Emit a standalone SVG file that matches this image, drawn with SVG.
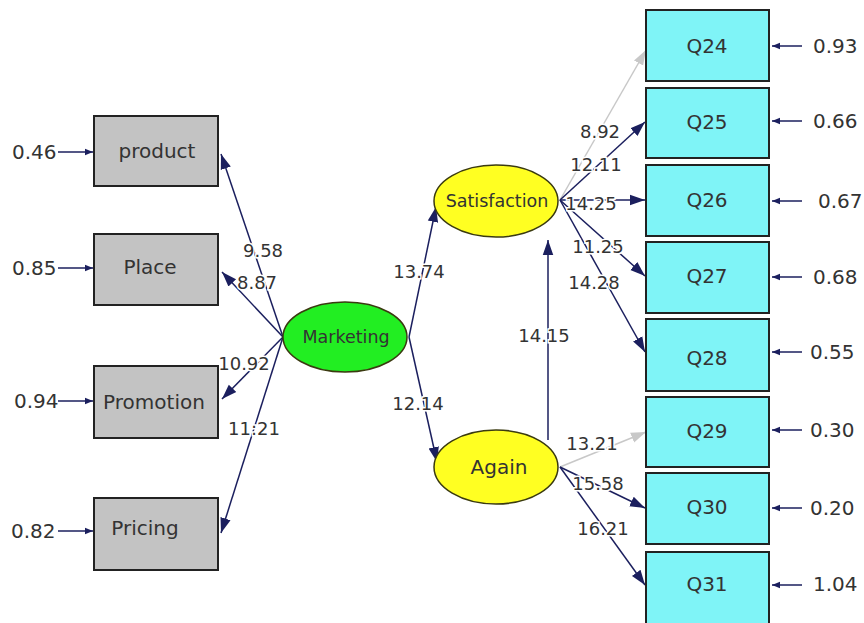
<svg xmlns="http://www.w3.org/2000/svg" width="864" height="623" viewBox="0 0 864 623">
<defs>
<marker id="ah" viewBox="0 0 10 10" refX="10" refY="5" markerWidth="8" markerHeight="8" markerUnits="userSpaceOnUse" orient="auto"><path d="M0,1 L10,5 L0,9 z" fill="#1b1f5e"/></marker>
<marker id="ahb" viewBox="0 0 10 10" refX="10" refY="5" markerWidth="15" markerHeight="15" markerUnits="userSpaceOnUse" orient="auto"><path d="M0,1.5 L10,5 L0,8.5 z" fill="#1b1f5e"/></marker>
<marker id="ahg" viewBox="0 0 10 10" refX="10" refY="5" markerWidth="15" markerHeight="15" markerUnits="userSpaceOnUse" orient="auto"><path d="M0,1.5 L10,5 L0,8.5 z" fill="#c8c8c8"/></marker>
</defs>
<style>
text{font-family:"DejaVu Sans","Open Sans",sans-serif;font-size:20px;fill:#333}
.lbl{font-size:18px;fill:#333;text-anchor:middle;stroke:#fff;stroke-width:3px;paint-order:stroke}
.n{font-size:20px}
.el{font-size:17.5px}
.gb{fill:#c3c3c3;stroke:#222;stroke-width:2}
.cb{fill:#7ff4f7;stroke:#222;stroke-width:2}
.c{stroke:#1b1f5e;stroke-width:1.5;fill:none;marker-end:url(#ahb)}
.g{stroke:#c8c8c8;stroke-width:1.5;fill:none;marker-end:url(#ahg)}
.r{stroke:#1b1f5e;stroke-width:1.5;fill:none;marker-end:url(#ah)}
.e{stroke:#3a3a10;stroke-width:1.5}
</style>
<rect width="864" height="623" fill="#fff"/>
<g id="connectors">
<line class="r" x1="58" y1="152" x2="93" y2="152"/>
<line class="r" x1="58" y1="268" x2="93" y2="268"/>
<line class="r" x1="58" y1="401" x2="93" y2="401"/>
<line class="r" x1="58" y1="531" x2="93" y2="531"/>
<line class="c" x1="283" y1="337" x2="221" y2="154"/>
<line class="c" x1="283" y1="337" x2="222" y2="272"/>
<line class="c" x1="283" y1="337" x2="222" y2="399"/>
<line class="c" x1="283" y1="337" x2="221" y2="533"/>
<line class="c" x1="409" y1="337" x2="436" y2="207"/>
<line class="c" x1="409" y1="337" x2="437" y2="462"/>
<line class="c" x1="548" y1="440" x2="548" y2="240"/>
<line class="g" x1="560" y1="200" x2="646" y2="50"/>
<line class="c" x1="560" y1="200" x2="645" y2="122"/>
<line class="c" x1="560" y1="200" x2="645" y2="200"/>
<line class="c" x1="560" y1="200" x2="645" y2="276"/>
<line class="c" x1="560" y1="200" x2="645" y2="352"/>
<line class="g" x1="560" y1="467" x2="646" y2="432"/>
<line class="c" x1="560" y1="467" x2="645" y2="508"/>
<line class="c" x1="560" y1="467" x2="645" y2="585"/>
<line class="r" x1="802" y1="46" x2="772" y2="46"/>
<line class="r" x1="802" y1="121" x2="772" y2="121"/>
<line class="r" x1="802" y1="201" x2="772" y2="201"/>
<line class="r" x1="802" y1="277" x2="772" y2="277"/>
<line class="r" x1="802" y1="352" x2="772" y2="352"/>
<line class="r" x1="802" y1="430" x2="772" y2="430"/>
<line class="r" x1="802" y1="508" x2="772" y2="508"/>
<line class="r" x1="802" y1="585" x2="772" y2="585"/>
</g>
<g id="labels">
<text class="lbl" x="263" y="257">9.58</text>
<text class="lbl" x="257" y="289">8.87</text>
<text class="lbl" x="244" y="370">10.92</text>
<text class="lbl" x="254" y="435">11:21</text>
<text class="lbl" x="419" y="278">13.74</text>
<text class="lbl" x="418" y="410">12.14</text>
<text class="lbl" x="544" y="342">14.15</text>
<text class="lbl" x="600" y="138">8.92</text>
<text class="lbl" x="596" y="171">12.11</text>
<text class="lbl" x="591" y="210">14.25</text>
<text class="lbl" x="598" y="253">11.25</text>
<text class="lbl" x="594" y="289">14.28</text>
<text class="lbl" x="592" y="450">13.21</text>
<text class="lbl" x="598" y="490">15.58</text>
<text class="lbl" x="603" y="535">16.21</text>
</g>
<g id="res-left">
<text class="n" x="12" y="159">0.46</text>
<text class="n" x="12" y="275">0.85</text>
<text class="n" x="14" y="408">0.94</text>
<text class="n" x="11" y="538">0.82</text>
</g>
<g id="res-right">
<text class="n" x="813" y="53">0.93</text>
<text class="n" x="813" y="128">0.66</text>
<text class="n" x="818" y="208">0.67</text>
<text class="n" x="813" y="284">0.68</text>
<text class="n" x="810" y="359">0.55</text>
<text class="n" x="810" y="437">0.30</text>
<text class="n" x="810" y="515">0.20</text>
<text class="n" x="813" y="591">1.04</text>
</g>
<g id="product"><rect class="gb" x="94" y="116" width="124" height="70"/><text x="157" y="158" text-anchor="middle">product</text></g>
<g id="place"><rect class="gb" x="94" y="234" width="124" height="71"/><text x="150" y="274" text-anchor="middle">Place</text></g>
<g id="promotion"><rect class="gb" x="94" y="366" width="124" height="72"/><text x="154" y="409" text-anchor="middle">Promotion</text></g>
<g id="pricing"><rect class="gb" x="94" y="498" width="124" height="72"/><text x="145" y="535" text-anchor="middle">Pricing</text></g>
<g id="marketing"><ellipse class="e" cx="345" cy="337" rx="62" ry="35" fill="#22ee22"/><text class="el" x="346" y="343" text-anchor="middle">Marketing</text></g>
<g id="satisfaction"><ellipse class="e" cx="496" cy="201" rx="62" ry="36" fill="#ffff22"/><text class="el" x="497" y="207" text-anchor="middle">Satisfaction</text></g>
<g id="again"><ellipse class="e" cx="496" cy="467" rx="62" ry="37" fill="#ffff22"/><text x="499" y="474" text-anchor="middle">Again</text></g>
<g id="Q24"><rect class="cb" x="646" y="10" width="123" height="71"/><text x="707" y="53" text-anchor="middle">Q24</text></g>
<g id="Q25"><rect class="cb" x="646" y="88" width="123" height="70"/><text x="707" y="129" text-anchor="middle">Q25</text></g>
<g id="Q26"><rect class="cb" x="646" y="165" width="123" height="71"/><text x="707" y="207" text-anchor="middle">Q26</text></g>
<g id="Q27"><rect class="cb" x="646" y="242" width="123" height="71"/><text x="707" y="283" text-anchor="middle">Q27</text></g>
<g id="Q28"><rect class="cb" x="646" y="319" width="123" height="72"/><text x="707" y="365" text-anchor="middle">Q28</text></g>
<g id="Q29"><rect class="cb" x="646" y="397" width="123" height="70"/><text x="707" y="438" text-anchor="middle">Q29</text></g>
<g id="Q30"><rect class="cb" x="646" y="473" width="123" height="71"/><text x="707" y="514" text-anchor="middle">Q30</text></g>
<g id="Q31"><rect class="cb" x="646" y="552" width="123" height="72"/><text x="707" y="591" text-anchor="middle">Q31</text></g>
</svg>
